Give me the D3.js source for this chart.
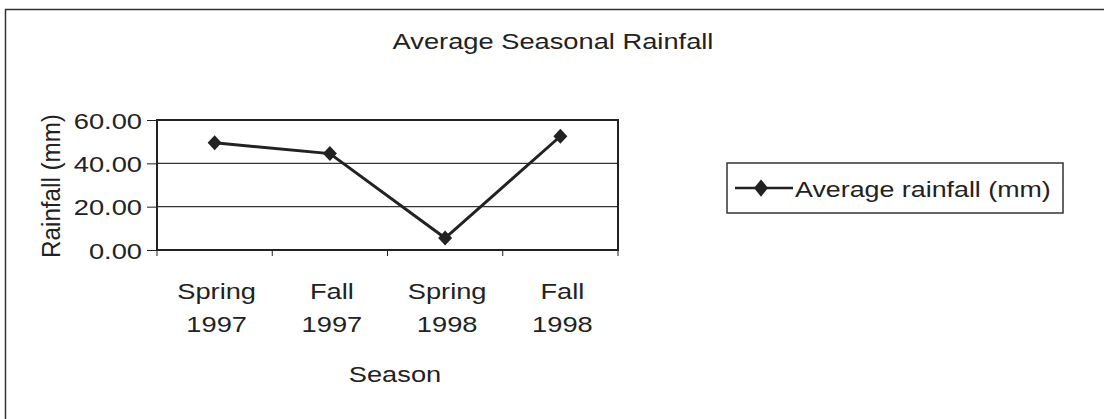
<!DOCTYPE html>
<html><head><meta charset="utf-8">
<script src="https://cdn.jsdelivr.net/npm/d3@7"></script>
<style>body{margin:0;background:#fff}svg{display:block}text{font-family:"Liberation Sans",Arial,sans-serif;fill:#222}</style>
</head><body><svg id="c" width="1104" height="419"></svg>
<script>
const categories = [["Spring","1997"],["Fall","1997"],["Spring","1998"],["Fall","1998"]];
const values = [49.5, 44.5, 5.5, 52.5];
const yTicks = [0, 20, 40, 60];
const seriesName = "Average rainfall (mm)";

const svg = d3.select("#c");
const ink = "#222";
const FS = 22, SX = 1.24;
function txt(g, x, y, s, anchor, sx){
  return g.append("text").attr("transform",`translate(${x},${y}) scale(${sx||SX},1)`)
    .attr("text-anchor",anchor||"start").attr("font-size",FS).text(s);
}
// outer frame
svg.append("path").attr("d","M5.5,419 V9.5 H1104").attr("fill","none").attr("stroke","#333").attr("stroke-width",1.5);

const pL=157, pR=618, pT=120, pB=250;
const x = d3.scaleBand().domain(d3.range(categories.length)).range([pL,pR]);
const y = d3.scaleLinear().domain([0,60]).range([pB,pT]);

// gridlines
svg.append("g").selectAll("line").data(yTicks.filter(d=>d>0 && d<60)).join("line")
  .attr("x1",pL).attr("x2",pR).attr("y1",d=>y(d)).attr("y2",d=>y(d))
  .attr("stroke","#333").attr("stroke-width",1.2);
// plot box
svg.append("rect").attr("x",pL).attr("y",pT).attr("width",pR-pL).attr("height",pB-pT)
  .attr("fill","none").attr("stroke",ink).attr("stroke-width",2);

// y axis
const fmt = d3.format(".2f");
const ya = svg.append("g").attr("transform",`translate(${pL},0)`)
  .call(d3.axisLeft(y).tickValues(yTicks).tickFormat("").tickSize(10));
ya.select(".domain").remove();
ya.selectAll("line").attr("stroke",ink);
ya.selectAll(".tick text").remove();
ya.selectAll(".tick").each(function(d){
  txt(d3.select(this), -15, 8, fmt(d), "end");
});

// x axis
const xa = svg.append("g").attr("transform",`translate(0,${pB})`)
  .call(d3.axisBottom(x).tickSize(0).tickFormat(""));
xa.select(".domain").remove();
const edges = d3.range(categories.length+1).map(i=> i<categories.length ? x(i) : x(i-1)+x.bandwidth());
svg.append("g").selectAll("line").data(edges).join("line")
  .attr("x1",d=>d).attr("x2",d=>d).attr("y1",pB).attr("y2",pB+6).attr("stroke",ink);
const xl = svg.append("g");
categories.forEach((c,i)=>{
  const cx = x(i)+x.bandwidth()/2 + 2;
  txt(xl, cx, 299, c[0], "middle");
  txt(xl, cx, 332, c[1], "middle");
});

// line
const line = d3.line().x((d,i)=>x(i)+x.bandwidth()/2).y(d=>y(d));
svg.append("path").datum(values).attr("d",line).attr("fill","none").attr("stroke",ink).attr("stroke-width",3);
const diamondType = {draw(ctx,size){const w=7,h=7.5;ctx.moveTo(0,-h);ctx.lineTo(w,0);ctx.lineTo(0,h);ctx.lineTo(-w,0);ctx.closePath();}};
const diamond = d3.symbol().type(diamondType);
svg.append("g").selectAll("path").data(values).join("path")
  .attr("d",diamond).attr("transform",(d,i)=>`translate(${x(i)+x.bandwidth()/2},${y(d)})`).attr("fill",ink);

// titles
txt(svg, 553, 49, "Average Seasonal Rainfall", "middle");
txt(svg, 395, 382, "Season", "middle");
svg.append("text").attr("transform","translate(60,186) rotate(-90) scale(1.1,1.2)").attr("text-anchor","middle").attr("font-size",FS).text("Rainfall (mm)");

// legend
const lg = svg.append("g");
lg.append("rect").attr("x",727).attr("y",163).attr("width",336).attr("height",50).attr("fill","none").attr("stroke","#333").attr("stroke-width",1.5);
lg.append("line").attr("x1",735).attr("x2",793).attr("y1",188).attr("y2",188).attr("stroke",ink).attr("stroke-width",2.5);
lg.append("path").attr("d",diamond).attr("transform","translate(761,188) scale(1,1.15)").attr("fill",ink);
txt(lg, 795, 197, seriesName, "start", 1.22);
</script></body></html>
